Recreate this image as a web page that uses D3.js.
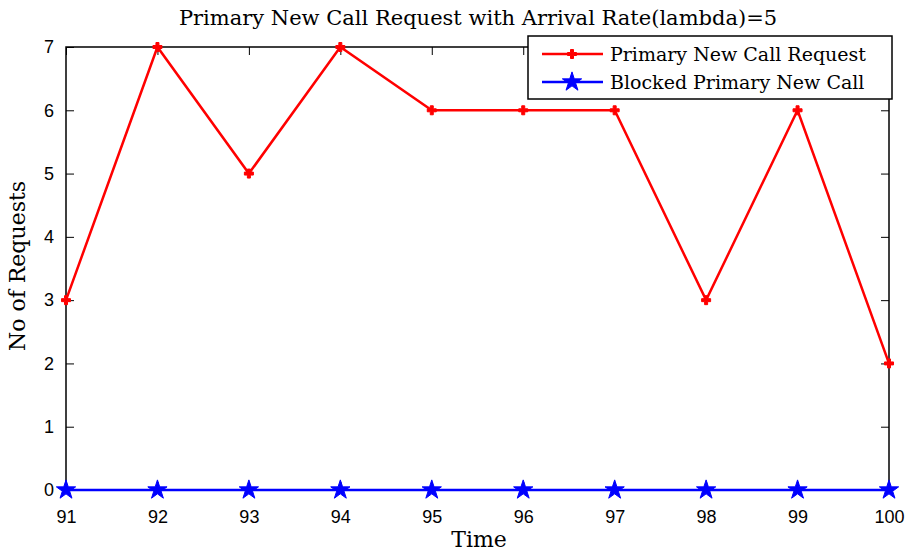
<!DOCTYPE html>
<html>
<head>
<meta charset="utf-8">
<script src="https://cdn.jsdelivr.net/npm/d3@7"></script>
<style>
  html, body { margin: 0; padding: 0; background: #fff; }
  svg { display: block; }
</style>
</head>
<body>
<svg id="chart" width="911" height="553"></svg>
<script>
// Time steps and request counts
const times = [91, 92, 93, 94, 95, 96, 97, 98, 99, 100];
const newCallRequests = [3, 7, 5, 7, 6, 6, 6, 3, 6, 2];
const blockedNewCalls = [0, 0, 0, 0, 0, 0, 0, 0, 0, 0];
const yTicks = [0, 1, 2, 3, 4, 5, 6, 7];
const seriesNames = ["Primary New Call Request", "Blocked Primary New Call"];

const svg = d3.select("#chart");
const serif = "'DejaVu Serif', 'Liberation Serif', serif";
const sans = "'Liberation Sans', Arial, sans-serif";

const plotLeft = 66, plotRight = 889, plotTop = 47, plotBottom = 490;
const x = d3.scaleLinear().domain([91, 100]).range([plotLeft, plotRight]);
const y = d3.scaleLinear().domain([0, 7]).range([plotBottom, plotTop]);

// Frame
svg.append("rect")
  .attr("x", plotLeft).attr("y", plotTop)
  .attr("width", plotRight - plotLeft).attr("height", plotBottom - plotTop)
  .attr("fill", "none").attr("stroke", "#000").attr("stroke-width", 1.5);

// Axes with inward ticks
const tickLen = 8;
const xAxisB = d3.axisBottom(x).tickValues(times).tickSizeInner(-tickLen).tickSizeOuter(0).tickPadding(20).tickFormat(d3.format("d"));
const xAxisT = d3.axisTop(x).tickValues(times).tickSizeInner(-tickLen).tickSizeOuter(0).tickFormat("");
const yAxisL = d3.axisLeft(y).tickValues(yTicks).tickSizeInner(-tickLen).tickSizeOuter(0).tickPadding(12).tickFormat(d3.format("d"));
const yAxisR = d3.axisRight(y).tickValues(yTicks).tickSizeInner(-tickLen).tickSizeOuter(0).tickFormat("");

function styleAxis(g) {
  g.select(".domain").remove();
  g.selectAll(".tick line").attr("stroke", "#000").attr("stroke-width", 1);
  g.selectAll(".tick text").attr("fill", "#000").attr("font-family", sans).attr("font-size", 18);
}
svg.append("g").attr("transform", `translate(0,${plotBottom})`).call(xAxisB).call(styleAxis);
svg.append("g").attr("transform", `translate(0,${plotTop})`).call(xAxisT).call(styleAxis);
svg.append("g").attr("transform", `translate(${plotLeft},0)`).call(yAxisL).call(styleAxis);
svg.append("g").attr("transform", `translate(${plotRight},0)`).call(yAxisR).call(styleAxis);

// Title and axis labels
svg.append("text").attr("x", 478).attr("y", 25).attr("text-anchor", "middle")
  .attr("font-family", serif).attr("font-size", 21).attr("fill", "#000")
  .text("Primary New Call Request with Arrival Rate(lambda)=5");
svg.append("text").attr("x", 479).attr("y", 547).attr("text-anchor", "middle")
  .attr("font-family", serif).attr("font-size", 22).attr("fill", "#000")
  .text("Time");
svg.append("text").attr("transform", "translate(25,266) rotate(-90)").attr("text-anchor", "middle")
  .attr("font-family", serif).attr("font-size", 22).attr("fill", "#000")
  .text("No of Requests");

const line = d3.line().x((d, i) => x(times[i])).y(d => y(d));

// Series lines
svg.append("path").datum(newCallRequests).attr("d", line)
  .attr("fill", "none").attr("stroke", "#ff0000").attr("stroke-width", 2.5);
svg.append("path").datum(blockedNewCalls).attr("d", line)
  .attr("fill", "none").attr("stroke", "#0000ff").attr("stroke-width", 2.5);

// Markers
const redMarker = d3.symbol().type(d3.symbolCross).size(45);
const blueMarker = d3.symbol().type(d3.symbolStar).size(115);

svg.append("g").selectAll("path").data(newCallRequests).join("path")
  .attr("transform", (d, i) => `translate(${x(times[i])},${y(d)})`)
  .attr("d", redMarker).attr("fill", "#ff0000").attr("stroke", "#ff0000").attr("stroke-width", 1);
svg.append("g").selectAll("path").data(blockedNewCalls).join("path")
  .attr("transform", (d, i) => `translate(${x(times[i])},${y(d)})`)
  .attr("d", blueMarker).attr("fill", "#0000ff").attr("stroke", "#0000ff").attr("stroke-width", 1);

// Legend
const lg = svg.append("g");
lg.append("rect").attr("x", 528).attr("y", 36).attr("width", 364).attr("height", 63)
  .attr("fill", "#fff").attr("stroke", "#000").attr("stroke-width", 1.5);
const legendRows = [
  { name: seriesNames[0], color: "#ff0000", marker: redMarker, ly: 54 },
  { name: seriesNames[1], color: "#0000ff", marker: blueMarker, ly: 82 }
];
legendRows.forEach(r => {
  lg.append("line").attr("x1", 542).attr("x2", 603).attr("y1", r.ly).attr("y2", r.ly)
    .attr("stroke", r.color).attr("stroke-width", 2.5);
  lg.append("path").attr("transform", `translate(572,${r.ly})`).attr("d", r.marker)
    .attr("fill", r.color).attr("stroke", r.color).attr("stroke-width", 1);
  lg.append("text").attr("x", 610).attr("y", r.ly + 7)
    .attr("font-family", serif).attr("font-size", 19).attr("fill", "#000")
    .text(r.name);
});
</script>
</body>
</html>
